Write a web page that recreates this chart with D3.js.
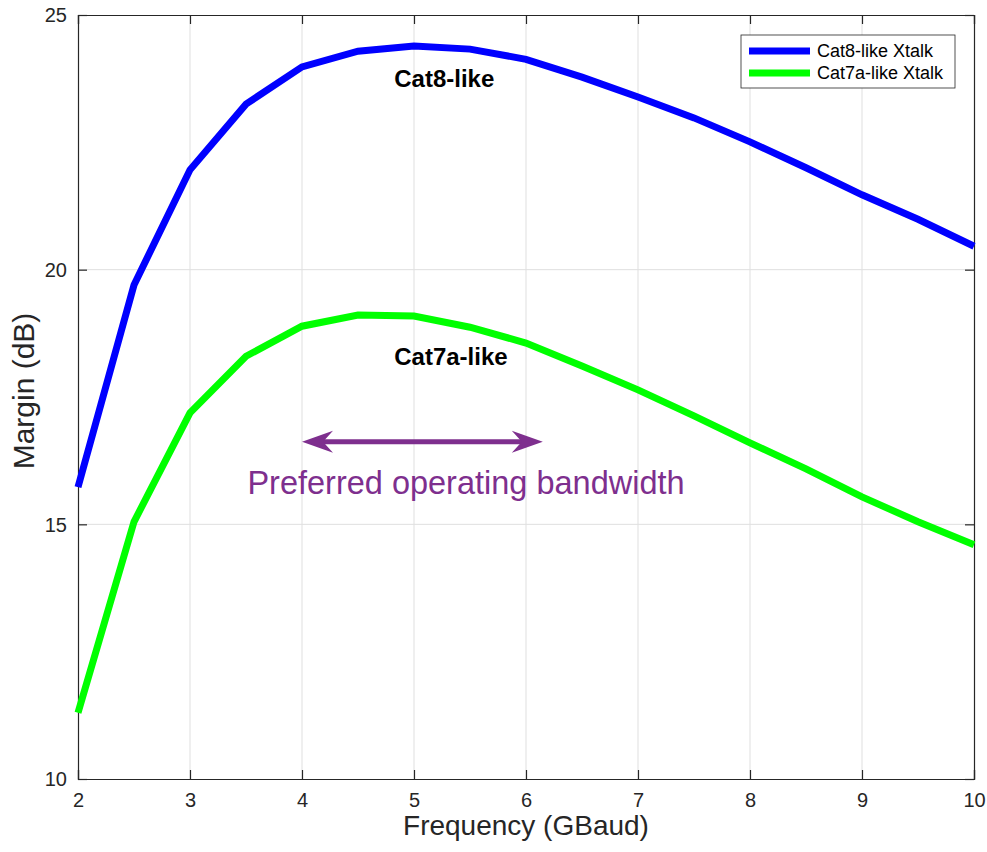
<!DOCTYPE html>
<html><head><meta charset="utf-8">
<script src="https://cdn.jsdelivr.net/npm/d3@7"></script>
<style>body{margin:0;background:#fff;} text{font-family:"Liberation Sans",Arial,Helvetica,sans-serif;}</style>
</head><body>
<svg id="c" width="987" height="852"></svg>
<script>
const freq = [2,2.5,3,3.5,4,4.5,5,5.5,6,6.5,7,7.5,8,8.5,9,9.5,10];
const cat8 = [15.73,19.70,21.96,23.25,23.98,24.29,24.39,24.33,24.13,23.78,23.39,22.98,22.51,22.0,21.47,20.99,20.46];
const cat7a = [11.30,15.05,17.19,18.30,18.89,19.11,19.09,18.87,18.56,18.11,17.64,17.13,16.60,16.09,15.54,15.05,14.60];
const xTicks = [2,3,4,5,6,7,8,9,10];
const yTicks = [10,15,20,25];
const seriesNames = ["Cat8-like Xtalk","Cat7a-like Xtalk"];
const seriesColors = ["#0000ff","#00ff00"];
const bandRange = [4, 6.15];
const bandLevel = 16.62;

const svg = d3.select("#c");
const L=78, R=974, T=15, B=779;
const x = d3.scaleLinear().domain([2,10]).range([L,R]);
const y = d3.scaleLinear().domain([10,25]).range([B,T]);
const axisCol = "#262626";

// grid
svg.append("g").selectAll("line").data(xTicks.slice(1,-1)).join("line")
  .attr("x1",d=>x(d)).attr("x2",d=>x(d)).attr("y1",T).attr("y2",B)
  .attr("stroke","#dfdfdf").attr("stroke-width",1);
svg.append("g").selectAll("line").data(yTicks.slice(1,-1)).join("line")
  .attr("y1",d=>y(d)).attr("y2",d=>y(d)).attr("x1",L).attr("x2",R)
  .attr("stroke","#dfdfdf").attr("stroke-width",1);

// axes
const fs = 20;
const xb = svg.append("g").attr("transform",`translate(0,${B})`)
  .call(d3.axisBottom(x).tickValues(xTicks).tickSize(-9).tickPadding(14).tickFormat(d3.format("d")));
const xt = svg.append("g").attr("transform",`translate(0,${T})`)
  .call(d3.axisTop(x).tickValues(xTicks).tickSize(-9).tickFormat(""));
const yl = svg.append("g").attr("transform",`translate(${L},0)`)
  .call(d3.axisLeft(y).tickValues(yTicks).tickSize(-9).tickPadding(11).tickFormat(d3.format("d")));
const yr = svg.append("g").attr("transform",`translate(${R},0)`)
  .call(d3.axisRight(y).tickValues(yTicks).tickSize(-9).tickFormat(""));
[xb,xt,yl,yr].forEach(g=>{
  g.attr("font-size",fs).attr("font-family",'"Liberation Sans",Arial,sans-serif');
  g.select(".domain").attr("stroke",axisCol).attr("stroke-width",1.2);
  g.selectAll(".tick line").attr("stroke",axisCol).attr("stroke-width",1.2);
  g.selectAll(".tick text").attr("fill",axisCol).attr("font-size",fs).style("font-size",fs+"px");
});
yl.selectAll(".tick text").attr("dy","0.34em");

// lines
const line = d3.line().x((d,i)=>x(freq[i])).y(d=>y(d));
[cat8,cat7a].forEach((s,i)=>{
  svg.append("path").datum(s).attr("d",line).attr("fill","none")
    .attr("stroke",seriesColors[i]).attr("stroke-width",7).attr("stroke-linejoin","miter");
});

// labels on curves
svg.append("text").attr("x",x(5.27)).attr("y",y(23.59)).attr("text-anchor","middle")
  .style("font-size","24px").style("font-weight","bold").attr("fill","#000").text("Cat8-like");
svg.append("text").attr("x",x(5.33)).attr("y",y(18.13)).attr("text-anchor","middle")
  .style("font-size","24px").style("font-weight","bold").attr("fill","#000").text("Cat7a-like");

// double arrow
const purple = "#7e2f8e";
const ax1 = x(bandRange[0]), ax2 = x(bandRange[1]), ay = y(bandLevel);
svg.append("line").attr("x1",ax1+10).attr("x2",ax2-10).attr("y1",ay).attr("y2",ay)
  .attr("stroke",purple).attr("stroke-width",5);
svg.append("path").attr("d",`M${ax1},${ay} L${ax1+31},${ay-11} L${ax1+21},${ay} L${ax1+31},${ay+11} Z`).attr("fill",purple);
svg.append("path").attr("d",`M${ax2},${ay} L${ax2-31},${ay-11} L${ax2-21},${ay} L${ax2-31},${ay+11} Z`).attr("fill",purple);
svg.append("text").attr("x",466).attr("y",494).attr("text-anchor","middle")
  .style("font-size","32.5px").attr("fill",purple).text("Preferred operating bandwidth");

// legend
const lg = svg.append("g");
lg.append("rect").attr("x",741).attr("y",35).attr("width",214).attr("height",53)
  .attr("fill","#fff").attr("stroke","#262626").attr("stroke-width",0.8);
seriesNames.forEach((n,i)=>{
  const yy = 51 + i*22;
  lg.append("line").attr("x1",749).attr("x2",810).attr("y1",yy).attr("y2",yy)
    .attr("stroke",seriesColors[i]).attr("stroke-width",7);
  lg.append("text").attr("x",817).attr("y",yy+6).style("font-size","18px").attr("fill","#000").text(n);
});

// axis titles
svg.append("text").attr("x",(L+R)/2).attr("y",835).attr("text-anchor","middle")
  .style("font-size","28px").attr("fill",axisCol).text("Frequency (GBaud)");
svg.append("text").attr("transform",`translate(34,${391}) rotate(-90)`).attr("text-anchor","middle")
  .style("font-size","30px").attr("fill",axisCol).text("Margin (dB)");
</script>
</body></html>
